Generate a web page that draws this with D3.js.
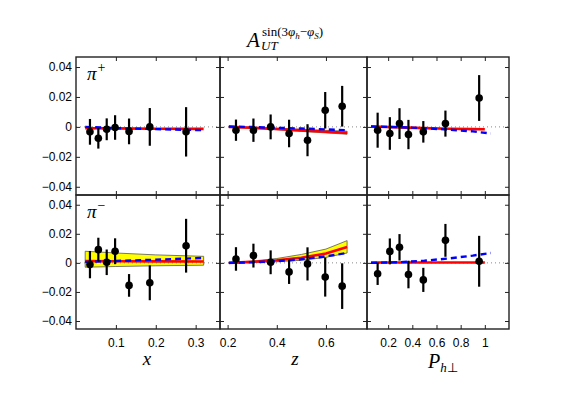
<!DOCTYPE html>
<html>
<head>
<meta charset="utf-8">
<script src="https://d3js.org/d3.v7.min.js"></script>
<style>
body { margin: 0; background: #fff; }
.tick text { font-family: "Liberation Sans", Arial, sans-serif; font-size: 12px; fill: #000; }
.tick line { stroke: #222; }
</style>
</head>
<body>
<script>
var width = 563, height = 398;

// bin centres of the three projections
var xBins = [0.035, 0.056, 0.077, 0.098, 0.133, 0.185, 0.276];
var zBins = [0.234, 0.305, 0.375, 0.45, 0.525, 0.597, 0.666];
var pBins = [0.113, 0.214, 0.294, 0.368, 0.491, 0.674, 0.953];

// measured asymmetries and errors
var xPlusA  = [-0.0033, -0.0076, -0.0016, -0.0004, -0.003, 0.0, -0.0033];
var xPlusE  = [0.0086, 0.0069, 0.0073, 0.0082, 0.0086, 0.0126, 0.0165];
var xMinusA = [-0.0012, 0.0091, 0.0004, 0.008, -0.0155, -0.0137, 0.0118];
var xMinusE = [0.0094, 0.0082, 0.0088, 0.0089, 0.0078, 0.012, 0.0185];
var zPlusA  = [-0.0022, -0.0022, 0.0, -0.0044, -0.0089, 0.0111, 0.0138];
var zPlusE  = [0.0071, 0.0078, 0.0083, 0.0092, 0.0107, 0.0122, 0.0136];
var zMinusA = [0.0027, 0.005, 0.0004, -0.0062, -0.0007, -0.0098, -0.016];
var zMinusE = [0.0081, 0.0082, 0.0082, 0.0083, 0.0114, 0.0134, 0.0157];
var pPlusA  = [-0.0022, -0.0044, 0.0022, -0.0051, -0.0033, 0.0022, 0.0193];
var pPlusE  = [0.0117, 0.0109, 0.0103, 0.0098, 0.0072, 0.0087, 0.0153];
var pMinusA = [-0.0075, 0.0079, 0.0107, -0.008, -0.0117, 0.0155, 0.0011];
var pMinusE = [0.0077, 0.0089, 0.0091, 0.0095, 0.0083, 0.0113, 0.0175];

// model curves (red = central, band = uncertainty, blue dashed = other model)
var xGrid = [0.023, 0.1, 0.2, 0.32];
var xPlusRed   = [-0.0009, -0.001, -0.0012, -0.0013];
var xPlusBlue  = [0.0, -0.0008, -0.0015, -0.0022];
var xMinusRed  = [0.0012, 0.0011, 0.001, 0.0009];
var xMinusBlue = [0.0007, 0.0013, 0.0022, 0.0034];
var xMinusHi   = [0.008, 0.0068, 0.0055, 0.0045];
var xMinusLo   = [-0.003, -0.0025, -0.002, -0.0016];

var zGrid = [0.205, 0.3, 0.4, 0.5, 0.6, 0.686];
var zPlusRed   = [0.0, -0.0006, -0.0014, -0.0023, -0.0032, -0.004];
var zPlusBlue  = [0.0003, -0.0001, -0.0006, -0.0011, -0.0017, -0.0022];
var zPlusHi    = [0.0003, -0.0002, -0.0009, -0.0016, -0.0023, -0.0029];
var zPlusLo    = [-0.0003, -0.001, -0.0019, -0.003, -0.004, -0.0049];
var zMinusRed  = [0.0, 0.0007, 0.0018, 0.0035, 0.0065, 0.011];
var zMinusBlue = [0.0, 0.0004, 0.0012, 0.0025, 0.0045, 0.0068];
var zMinusHi   = [0.0003, 0.0012, 0.003, 0.0058, 0.0095, 0.0153];
var zMinusLo   = [-0.0002, 0.0003, 0.0008, 0.0018, 0.0038, 0.0068];

var pRedGrid  = [0.058, 0.3, 0.5, 0.7, 0.9, 1.0];
var pBlueGrid = [0.058, 0.3, 0.5, 0.7, 0.9, 1.05];
var pPlusRed   = [0.0003, -0.0003, -0.0008, -0.0012, -0.0015, -0.0016];
var pPlusBlue  = [0.0003, -0.0002, -0.0009, -0.0018, -0.003, -0.0044];
var pMinusRed  = [0.0003, 0.0003, 0.0003, 0.0003, 0.0003, 0.0003];
var pMinusBlue = [0.0, 0.0005, 0.0015, 0.003, 0.005, 0.0068];

var yTicks = [-0.04, -0.02, 0, 0.02, 0.04];
var xTicks = [0.1, 0.2, 0.3];
var zTicks = [0.2, 0.4, 0.6];
var pTicks = [0.2, 0.4, 0.6, 0.8, 1];

var svg = d3.select('body').append('svg')
    .attr('width', width)
    .attr('height', height)
    .style('background', '#fff');

var cols = [
  {x0: 76, x1: 220, domain: [0.0, 0.361], ticks: xTicks, bins: xBins},
  {x0: 220, x1: 367, domain: [0.169, 0.767], ticks: zTicks, bins: zBins},
  {x0: 367, x1: 509, domain: [0.025, 1.2], ticks: pTicks, bins: pBins}
];
var rows = [{y0: 57, y1: 195}, {y0: 195, y1: 329}];
var yDomain = [-0.0455, 0.0467];

var panels = [
  [ {a: xPlusA, e: xPlusE, grid: xGrid, red: xPlusRed, blueGrid: xGrid, blue: xPlusBlue},
    {a: zPlusA, e: zPlusE, grid: zGrid, red: zPlusRed, blueGrid: zGrid, blue: zPlusBlue, hi: zPlusHi, lo: zPlusLo},
    {a: pPlusA, e: pPlusE, grid: pRedGrid, red: pPlusRed, blueGrid: pBlueGrid, blue: pPlusBlue} ],
  [ {a: xMinusA, e: xMinusE, grid: xGrid, red: xMinusRed, blueGrid: xGrid, blue: xMinusBlue, hi: xMinusHi, lo: xMinusLo},
    {a: zMinusA, e: zMinusE, grid: zGrid, red: zMinusRed, blueGrid: zGrid, blue: zMinusBlue, hi: zMinusHi, lo: zMinusLo},
    {a: pMinusA, e: pMinusE, grid: pRedGrid, red: pMinusRed, blueGrid: pBlueGrid, blue: pMinusBlue} ]
];

var fmtY = function(d) { return d === 0 ? '0' : d3.format('.2f')(d); };

rows.forEach(function(row, ri) {
  cols.forEach(function(col, ci) {
    var p = panels[ri][ci];
    var xs = d3.scaleLinear().domain(col.domain).range([col.x0, col.x1]);
    var ys = d3.scaleLinear().domain(yDomain).range([row.y1, row.y0]);
    var g = svg.append('g');

    // uncertainty band
    if (p.hi) {
      var band = p.grid.map(function(v, i) { return {x: v, lo: p.lo[i], hi: p.hi[i]}; });
      g.append('path').datum(band)
        .attr('fill', '#ffff00')
        .attr('stroke', '#555')
        .attr('stroke-width', 0.8)
        .attr('d', d3.area().x(function(d) { return xs(d.x); })
          .y0(function(d) { return ys(d.lo); })
          .y1(function(d) { return ys(d.hi); }));
    }

    // zero line
    g.append('line')
      .attr('x1', col.x0).attr('x2', col.x1)
      .attr('y1', ys(0)).attr('y2', ys(0))
      .attr('stroke', '#888').attr('stroke-width', 1)
      .attr('stroke-dasharray', '1,3');

    var line = d3.line().x(function(d) { return xs(d[0]); }).y(function(d) { return ys(d[1]); });
    g.append('path').datum(d3.zip(p.grid, p.red))
      .attr('fill', 'none').attr('stroke', '#ff0000').attr('stroke-width', 2.6)
      .attr('d', line);
    g.append('path').datum(d3.zip(p.blueGrid, p.blue))
      .attr('fill', 'none').attr('stroke', '#0000ff').attr('stroke-width', 2.4)
      .attr('stroke-dasharray', '6,4')
      .attr('d', line);

    // data points
    var pts = col.bins.map(function(b, i) { return {x: b, y: p.a[i], e: p.e[i]}; });
    g.selectAll('.err').data(pts).enter().append('line')
      .attr('class', 'err')
      .attr('x1', function(d) { return xs(d.x); })
      .attr('x2', function(d) { return xs(d.x); })
      .attr('y1', function(d) { return ys(d.y - d.e); })
      .attr('y2', function(d) { return ys(d.y + d.e); })
      .attr('stroke', '#000').attr('stroke-width', 2.2);
    g.selectAll('.pt').data(pts).enter().append('circle')
      .attr('class', 'pt')
      .attr('cx', function(d) { return xs(d.x); })
      .attr('cy', function(d) { return ys(d.y); })
      .attr('r', 3.8)
      .attr('fill', '#000');

    // ticks, pointing inward on all four sides
    var bottom = g.append('g').attr('transform', 'translate(0,' + row.y1 + ')')
      .call(d3.axisBottom(xs).tickValues(col.ticks).tickSize(-4).tickPadding(9)
        .tickFormat(ri === 1 ? d3.format('~g') : ''));
    var top = g.append('g').attr('transform', 'translate(0,' + row.y0 + ')')
      .call(d3.axisTop(xs).tickValues(col.ticks).tickSize(-4).tickFormat(''));
    var left = g.append('g').attr('transform', 'translate(' + col.x0 + ',0)')
      .call(d3.axisLeft(ys).tickValues(yTicks).tickSize(-4).tickPadding(4)
        .tickFormat(ci === 0 ? fmtY : ''));
    var right = g.append('g').attr('transform', 'translate(' + col.x1 + ',0)')
      .call(d3.axisRight(ys).tickValues(yTicks).tickSize(-4).tickFormat(''));
    [bottom, top, left, right].forEach(function(a) { a.select('.domain').remove(); });

    g.append('rect')
      .attr('x', col.x0).attr('y', row.y0)
      .attr('width', col.x1 - col.x0).attr('height', row.y1 - row.y0)
      .attr('fill', 'none').attr('stroke', '#222').attr('stroke-width', 1.4);
  });
});

// panel labels
var serif = '"Liberation Serif", "Times New Roman", serif';
[{y: 80, s: '+'}, {y: 218, s: '\u2212'}].forEach(function(l) {
  var t = svg.append('text').attr('x', 87).attr('y', l.y)
    .style('font-family', serif).style('font-size', '19px');
  t.append('tspan').style('font-style', 'italic').text('\u03c0');
  t.append('tspan').attr('dx', 1).attr('dy', -8).style('font-size', '14px').text(l.s);
});

// title
svg.append('text').attr('x', 247).attr('y', 47)
  .style('font-family', serif).style('font-size', '21px').style('font-style', 'italic').text('A');
var sup = svg.append('text').attr('x', 262).attr('y', 36)
  .style('font-family', serif).style('font-size', '13px');
sup.append('tspan').text('sin(3');
sup.append('tspan').style('font-style', 'italic').text('\u03c6');
sup.append('tspan').attr('dy', 3).style('font-style', 'italic').style('font-size', '9px').text('h');
sup.append('tspan').attr('dy', -3).text('\u2212');
sup.append('tspan').style('font-style', 'italic').text('\u03c6');
sup.append('tspan').attr('dy', 3).style('font-style', 'italic').style('font-size', '9px').text('S');
sup.append('tspan').attr('dy', -3).text(')');
svg.append('text').attr('x', 261).attr('y', 50)
  .style('font-family', serif).style('font-size', '13px').style('font-style', 'italic').text('UT');

// axis labels
[{x: 147, t: 'x'}, {x: 295, t: 'z'}].forEach(function(l) {
  svg.append('text').attr('x', l.x).attr('y', 365).attr('text-anchor', 'middle')
    .style('font-family', serif).style('font-size', '19px').style('font-style', 'italic').text(l.t);
});
var pl = svg.append('text').attr('x', 428).attr('y', 368)
  .style('font-family', serif).style('font-size', '20px');
pl.append('tspan').style('font-style', 'italic').text('P');
pl.append('tspan').attr('dy', 4).style('font-size', '13px').style('font-style', 'italic').text('h');
pl.append('tspan').style('font-size', '13px').text('\u22a5');
</script>
</body>
</html>
